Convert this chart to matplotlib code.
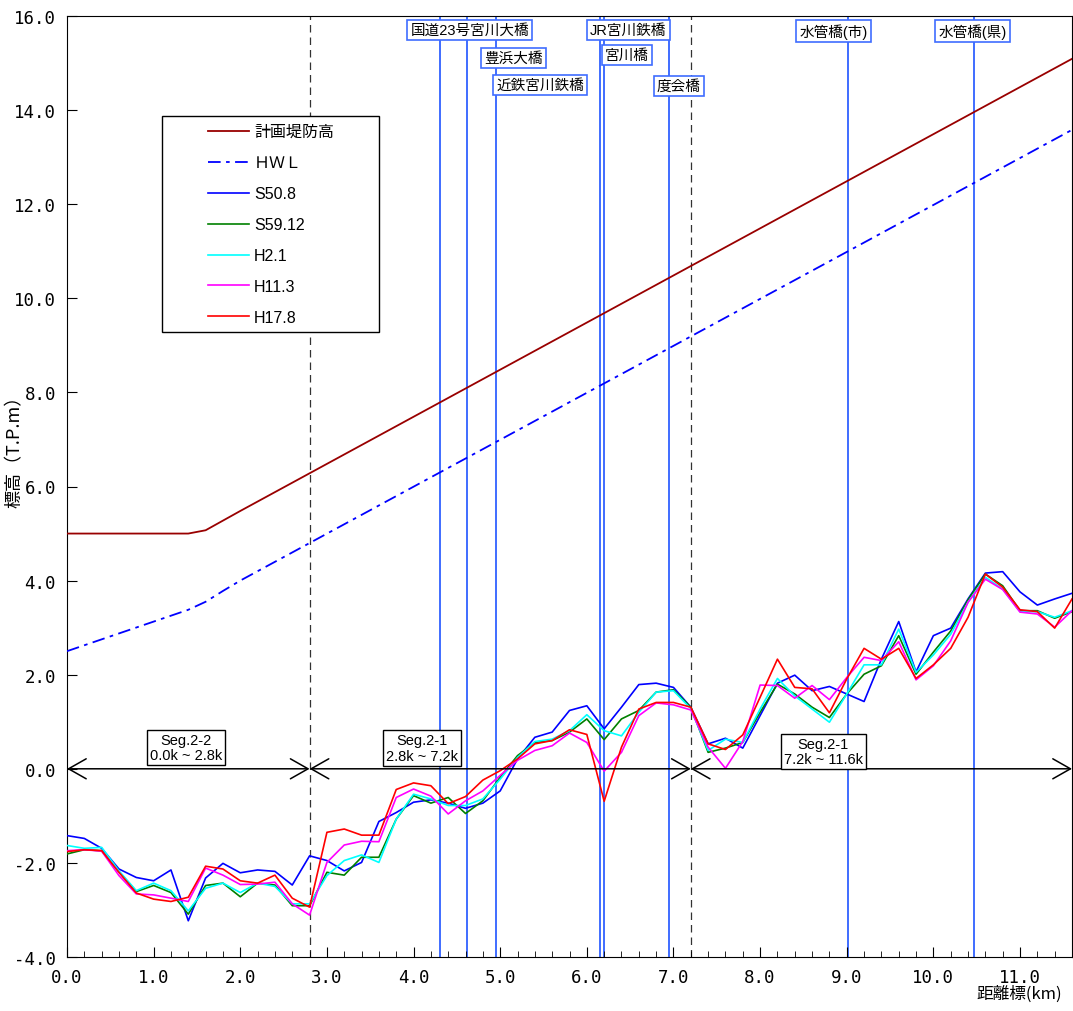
import numpy as np
import matplotlib
matplotlib.use('Agg')
import matplotlib.pyplot as plt
from matplotlib.patches import Rectangle

plt.rcParams['font.family'] = ['Liberation Sans', 'Noto Sans CJK JP']

# distance marks (km), one survey point every 0.2 km
dist = np.round(np.arange(59) * 0.2, 1)

# riverbed profiles (T.P.m)
s50_8 = [-1.42, -1.48, -1.69, -2.13, -2.31, -2.38, -2.15, -3.23, -2.32, -2.01,
         -2.21, -2.15, -2.18, -2.47, -1.85, -1.95, -2.17, -1.99, -1.12, -0.93,
         -0.71, -0.66, -0.73, -0.84, -0.73, -0.47, 0.21, 0.67, 0.78, 1.24,
         1.34, 0.85, 1.31, 1.79, 1.82, 1.73, 1.31, 0.53, 0.65, 0.44,
         1.13, 1.82, 1.99, 1.66, 1.75, 1.59, 1.43, 2.33, 3.13, 2.06,
         2.83, 2.99, 3.61, 4.16, 4.19, 3.76, 3.48, 3.61, 3.73]
s59_12 = [-1.81, -1.72, -1.74, -2.19, -2.61, -2.48, -2.63, -3.09, -2.48, -2.43,
          -2.72, -2.43, -2.47, -2.91, -2.91, -2.20, -2.26, -1.88, -1.88, -1.07,
          -0.57, -0.73, -0.61, -0.95, -0.68, -0.18, 0.28, 0.56, 0.60, 0.78,
          1.06, 0.62, 1.06, 1.24, 1.63, 1.68, 1.31, 0.35, 0.44, 0.56,
          1.20, 1.80, 1.59, 1.31, 1.09, 1.59, 2.01, 2.19, 2.83, 2.01,
          2.48, 2.93, 3.59, 4.14, 3.89, 3.36, 3.36, 3.20, 3.34]
h2_1 = [-1.63, -1.69, -1.67, -2.17, -2.59, -2.43, -2.59, -3.02, -2.54, -2.43,
        -2.63, -2.43, -2.50, -2.87, -2.87, -2.27, -1.95, -1.83, -1.99, -1.07,
        -0.54, -0.64, -0.78, -0.78, -0.64, -0.22, 0.24, 0.58, 0.63, 0.81,
        1.15, 0.81, 0.70, 1.20, 1.63, 1.66, 1.28, 0.39, 0.63, 0.56,
        1.27, 1.92, 1.55, 1.27, 0.99, 1.59, 2.21, 2.21, 2.97, 2.05,
        2.42, 2.86, 3.54, 4.07, 3.82, 3.34, 3.34, 3.22, 3.36]
h11_3 = [-1.74, -1.72, -1.75, -2.27, -2.66, -2.68, -2.75, -2.82, -2.11, -2.26,
         -2.46, -2.45, -2.41, -2.87, -3.11, -1.99, -1.62, -1.54, -1.55, -0.61,
         -0.43, -0.58, -0.96, -0.68, -0.47, -0.14, 0.18, 0.39, 0.49, 0.76,
         0.56, -0.05, 0.35, 1.13, 1.40, 1.36, 1.25, 0.46, 0.01, 0.58,
         1.78, 1.77, 1.50, 1.77, 1.47, 1.94, 2.37, 2.30, 2.70, 1.89,
         2.19, 2.72, 3.54, 4.03, 3.81, 3.33, 3.29, 3.01, 3.36]
h17_8 = [-1.76, -1.72, -1.74, -2.20, -2.64, -2.77, -2.82, -2.73, -2.07, -2.13,
         -2.38, -2.43, -2.26, -2.75, -2.94, -1.35, -1.28, -1.41, -1.41, -0.44,
         -0.30, -0.36, -0.74, -0.59, -0.24, -0.04, 0.21, 0.53, 0.60, 0.83,
         0.73, -0.69, 0.46, 1.27, 1.41, 1.41, 1.31, 0.53, 0.41, 0.72,
         1.52, 2.33, 1.73, 1.70, 1.19, 1.91, 2.56, 2.33, 2.56, 1.92,
         2.21, 2.56, 3.22, 4.14, 3.86, 3.38, 3.34, 2.99, 3.61]

# planned levee height and HWL
levee_x = [0.0, 1.4, 1.6, 2.0, 11.6]
levee_y = [5.0, 5.0, 5.07, 5.48, 15.09]
hwl_x = [0.0, 1.4, 1.6, 1.8, 2.0, 11.6]
hwl_y = [2.5, 3.38, 3.55, 3.78, 4.0, 13.58]

# bridges
bridge_names = ['国道23号宮川大橋', '豊浜大橋', '近鉄宮川鉄橋', 'JR宮川鉄橋',
                '宮川橋', '度会橋', '水管橋(市)', '水管橋(県)']
bridge_x = [4.30, 4.62, 4.95, 6.15, 6.20, 6.95, 9.01, 10.47]
# label anchor (km, level)
bridge_label_pos = [(4.65, 15.70), (5.15, 15.11), (5.46, 14.53), (6.48, 15.70),
                    (6.46, 15.17), (7.06, 14.51), (8.85, 15.68), (10.45, 15.68)]

# segments
seg_bounds = [0.0, 2.8, 7.2, 11.6]
seg_names = ['Seg.2-2', 'Seg.2-1', 'Seg.2-1']
seg_label_pos = [(1.37, 0.45), (4.10, 0.44), (8.73, 0.37)]

fig = plt.figure(figsize=(10.73, 10.12), dpi=100)
ax = fig.add_axes([67 / 1073, 1 - 958 / 1012, 1005 / 1073, 941 / 1012])

for bx in bridge_x:
    ax.axvline(bx, color='#3f6dff', lw=1.4, zorder=1)
for name, (lx, ly) in zip(bridge_names, bridge_label_pos):
    ax.text(lx, ly, name, ha='center', va='center', fontsize=10.5, zorder=6,
            bbox=dict(boxstyle='square,pad=0.22', fc='white', ec='#3f6dff', lw=1.2))

for sx in seg_bounds[1:-1]:
    ax.axvline(sx, color='#333333', lw=0.9, ls=(0, (6, 4)), zorder=1)

ax.plot(levee_x, levee_y, color='#990000', lw=1.3, label='計画堤防高', zorder=3)
ax.plot(hwl_x, hwl_y, color='#0000ff', lw=1.3, ls=(0, (7, 3, 2, 3)), label='ＨＷＬ', zorder=3)
ax.plot(dist, s50_8, color='#0000ff', lw=1.2, label='S50.8', zorder=3)
ax.plot(dist, s59_12, color='#008000', lw=1.2, label='S59.12', zorder=3)
ax.plot(dist, h2_1, color='#00ffff', lw=1.2, label='H2.1', zorder=3)
ax.plot(dist, h11_3, color='#ff00ff', lw=1.2, label='H11.3', zorder=3)
ax.plot(dist, h17_8, color='#ff0000', lw=1.2, label='H17.8', zorder=3)

# segment arrows
for a, b in zip(seg_bounds[:-1], seg_bounds[1:]):
    ax.annotate('', xy=(a, 0), xytext=(b, 0), zorder=4,
                arrowprops=dict(arrowstyle='<->,head_length=1.27,head_width=0.72',
                                mutation_scale=10, lw=1.1, color='black',
                                shrinkA=0, shrinkB=0))
for name, a, b, (lx, ly) in zip(seg_names, seg_bounds[:-1], seg_bounds[1:], seg_label_pos):
    ax.text(lx, ly, f'{name}\n{a:.1f}k ~ {b:.1f}k', ha='center', va='center',
            fontsize=10.5, linespacing=1.15, zorder=5,
            bbox=dict(boxstyle='square,pad=0.2', fc='white', ec='black', lw=1.0))

ax.set_xlim(0, 11.6)
ax.set_ylim(-4, 16)
ax.set_xticks(np.arange(0, 12, 1.0))
ax.set_xticks(np.arange(0, 11.61, 0.2), minor=True)
ax.set_yticks(np.arange(-4, 16.1, 2.0))
ax.set_xticklabels([f'{v:.1f}' for v in np.arange(0, 12, 1.0)], family='DejaVu Sans Mono', fontsize=12.5)
ax.set_yticklabels([f'{v:.1f}' for v in np.arange(-4, 16.1, 2.0)], family='DejaVu Sans Mono', fontsize=12.5)
ax.tick_params(axis='both', which='both', direction='in')
ax.tick_params(axis='x', which='major', length=7, pad=8)
ax.tick_params(axis='x', which='minor', length=4)
ax.tick_params(axis='y', which='major', length=7, pad=8)

ax.set_ylabel('標高（T.P.m）', family=['Noto Sans CJK JP'], fontsize=13)
ax.yaxis.set_label_coords(-0.043, 0.543)
ax.set_xlabel('距離標(km)', family=['Noto Sans CJK JP'], fontsize=12)
ax.xaxis.set_label_coords(0.947, -0.029)

ax.add_patch(Rectangle((0.0944, 0.6642), 0.2157, 0.2295, transform=ax.transAxes,
                       fc='white', ec='black', lw=1.0, zorder=5))
leg = ax.legend(loc='upper left', bbox_to_anchor=(0.140, 0.885), frameon=False,
                handlelength=2.6, handletextpad=0.3,
                labelspacing=1.0, borderpad=0, borderaxespad=0,
                prop={'family': ['Liberation Sans', 'Noto Sans CJK JP'], 'size': 11.5})
leg.set_zorder(6)

fig.savefig('out.png', dpi=100)
